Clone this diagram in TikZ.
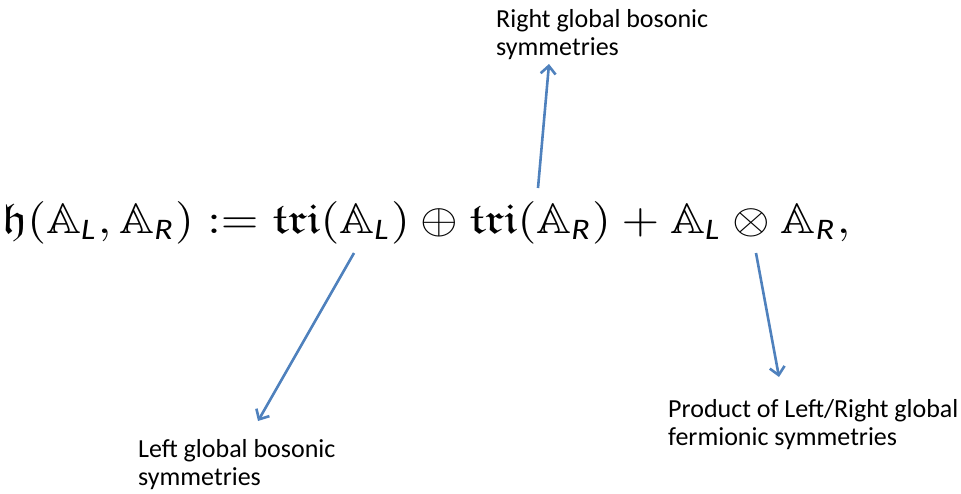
\documentclass[tikz,border=0pt]{standalone}
\usepackage{amsmath,amssymb}
\usepackage{fontspec}
\newfontfamily\calibri{Carlito}
\usetikzlibrary{arrows.meta}
\definecolor{arrowblue}{RGB}{79,129,189}
\newcommand{\subsf}[1]{\text{\calibri\itshape #1}}
\tikzset{
  lbl/.style={font=\calibri\fontsize{26}{28}\selectfont, align=left, inner sep=0pt, anchor=base west},
  callout/.style={draw=arrowblue, line width=2.6pt, -{Straight Barb[length=8pt,width=15pt,line width=2.6pt]}}
}
\begin{document}
\begin{tikzpicture}[x=1pt,y=-1pt]
\useasboundingbox (0,0) rectangle (961,493);
\node[anchor=base west, inner sep=0pt] (eq) at (2,233) {\scalebox{1}[0.88]{\resizebox{848pt}{!}{$\mathfrak{h}(\mathbb{A}_{\subsf{L}},\mathbb{A}_{\subsf{R}}) := \mathfrak{tri}(\mathbb{A}_{\subsf{L}}) \oplus \mathfrak{tri}(\mathbb{A}_{\subsf{R}}) + \mathbb{A}_{\subsf{L}} \otimes \mathbb{A}_{\subsf{R}},$}}};
\node[lbl] (rb) at (496,55) {Right global bosonic\\symmetries};
\node[lbl] (lb) at (138,485) {Left global bosonic\\symmetries};
\node[lbl] (pf) at (668,445) {Product of Left/Right global\\fermionic symmetries};
\coordinate (s1) at (538,188);
\coordinate (t1) at (549,64);
\coordinate (s2) at (354,253);
\coordinate (t2) at (258,421);
\coordinate (s3) at (756,253);
\coordinate (t3) at (779,377);
\draw[callout] (s1) -- (t1);
\draw[callout] (s2) -- (t2);
\draw[callout] (s3) -- (t3);
\end{tikzpicture}
\end{document}
